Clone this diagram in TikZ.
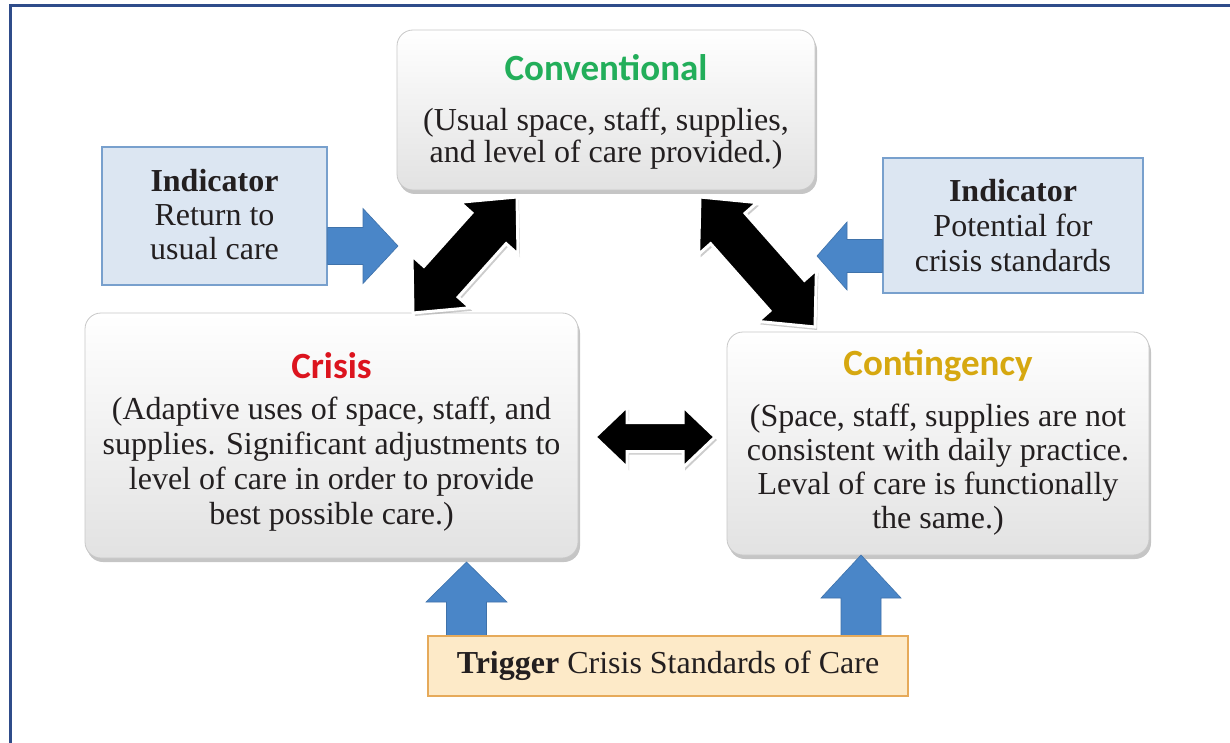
\documentclass[tikz,border=0pt]{standalone}
\usepackage{fontspec}
\setmainfont{LiberationSerif}[Extension=.ttf,UprightFont=*-Regular,BoldFont=*-Bold,ItalicFont=*-Italic,BoldItalicFont=*-BoldItalic]
\newfontfamily\serifbody{LiberationSerif}[Extension=.ttf,UprightFont=*-Regular,BoldFont=*-Bold]
\newfontfamily\headfont{Carlito}
\usetikzlibrary{calc,shadows}
\definecolor{framecol}{RGB}{47,76,138}
\definecolor{boxbot}{RGB}{226,226,226}
\definecolor{boxline}{RGB}{200,200,200}
\definecolor{bodytext}{RGB}{35,31,32}
\definecolor{convgreen}{RGB}{34,174,90}
\definecolor{crisisred}{RGB}{220,20,30}
\definecolor{contgold}{RGB}{214,168,16}
\definecolor{indfill}{RGB}{220,230,242}
\definecolor{indborder}{RGB}{120,160,205}
\definecolor{arrowblue}{RGB}{74,134,200}
\definecolor{trigfill}{RGB}{253,234,200}
\definecolor{trigborder}{RGB}{230,170,90}
\newcommand\dblarrow[6]{%
  \coordinate (#1-ba) at ($(#1)!#3!(#2)$);
  \coordinate (#1-bb) at ($(#2)!#3!(#1)$);
  \path[#6] (#1) -- ($(#1-ba)!#4!90:(#2)$) -- ($(#1-ba)!#5!90:(#2)$)
    -- ($(#1-bb)!#5!-90:(#1)$) -- ($(#1-bb)!#4!-90:(#1)$) -- (#2)
    -- ($(#1-bb)!#4!90:(#1)$) -- ($(#1-bb)!#5!90:(#1)$)
    -- ($(#1-ba)!#5!-90:(#2)$) -- ($(#1-ba)!#4!-90:(#2)$) -- cycle;}
\newcommand\sglarrow[6]{%
  \coordinate (#2-hb) at ($(#2)!#3!(#1)$);
  \path[#6] ($(#1)!#5!90:(#2)$) -- ($(#2-hb)!#5!-90:(#1)$) -- ($(#2-hb)!#4!-90:(#1)$)
    -- (#2) -- ($(#2-hb)!#4!90:(#1)$) -- ($(#2-hb)!#5!90:(#1)$)
    -- ($(#1)!#5!-90:(#2)$) -- cycle;}
\begin{document}
\begin{tikzpicture}[x=1pt,y=-1pt,
  rbox/.style={draw=boxline, line width=0.8pt, rounded corners=16pt, top color=white, bottom color=boxbot,
    drop shadow={opacity=0.45,shadow xshift=2pt,shadow yshift=-4pt}, inner sep=0pt},
  ibox/.style={draw=indborder, fill=indfill, line width=1.2pt, inner sep=0pt},
  tbox/.style={draw=trigborder, fill=trigfill, line width=1.4pt, inner sep=0pt},
  body/.style={font=\serifbody\fontsize{32}{34}\selectfont, text=bodytext, align=center, inner sep=0pt},
  ttl/.style={font=\headfont\bfseries\fontsize{37}{40}\selectfont, inner sep=0pt},
  blk/.style={fill=black, draw=white, line width=3pt, line join=miter,
    drop shadow={opacity=0.4,shadow xshift=2pt,shadow yshift=-3pt}},
  blu/.style={fill=arrowblue, draw=arrowblue!85!black, line width=0.6pt, line join=miter}]
\useasboundingbox (0,0) rectangle (1230,743);
\fill[white] (0,0) rectangle (1230,743);
\draw[framecol, line width=2.5pt] (10.5,745) -- (10.5,5.5) -- (1232,5.5);

% main boxes
\node[rbox, minimum width=418pt, minimum height=160pt] (conv) at (606,110) {};
\node[rbox, minimum width=493pt, minimum height=245pt] (crisis) at (331.5,435.5) {};
\node[rbox, minimum width=422pt, minimum height=223pt] (cont) at (938,443.5) {};

\node[ttl, text=convgreen] (convt) at (606,68) {Conventional};
\node[body, font=\serifbody\fontsize{32}{32}\selectfont] (convb) at (606,139) {(Usual space, staff, supplies,\\and level of care provided.)};
\node[ttl, text=crisisred] (crisist) at (331.5,366) {Crisis};
\node[body, font=\serifbody\fontsize{32}{35}\selectfont] (crisisb) at (331.5,464.5) {(Adaptive uses of space, staff, and\\supplies. Significant adjustments to\\level of care in order to provide\\best possible care.)};
\node[ttl, text=contgold] (contt) at (938,366) {Contingency};
\node[body] (contb) at (938,470) {(Space, staff, supplies are not\\consistent with daily practice.\\Leval of care is functionally\\the same.)};

% black double arrows
\coordinate (la) at (413,313); \coordinate (lb) at (517,197);
\dblarrow{la}{lb}{42pt}{39pt}{23pt}{blk}
\coordinate (ra) at (700,197); \coordinate (rb) at (815,327);
\dblarrow{ra}{rb}{42pt}{39pt}{23pt}{blk}
\coordinate (ha) at (595,437); \coordinate (hb) at (715,437);
\dblarrow{ha}{hb}{32pt}{30.5pt}{14.5pt}{blk}

% indicator boxes
\node[ibox, minimum width=225pt, minimum height=138pt] (indl) at (214.5,216) {};
\node[body] (indlt) at (214.5,214.5) {\textbf{Indicator}\\Return to\\usual care};
\node[ibox, minimum width=260pt, minimum height=135pt] (indr) at (1013,225.5) {};
\node[body, font=\serifbody\fontsize{32}{35}\selectfont] (indrt) at (1013,226) {\textbf{Indicator}\\Potential for\\crisis standards};

% blue arrows
\coordinate (bl1) at (indl.east |- 0,246); \coordinate (bl2) at (398,246);
\sglarrow{bl1}{bl2}{35pt}{37.5pt}{18.5pt}{blu}
\coordinate (br1) at (indr.west |- 0,256); \coordinate (br2) at (817,256);
\sglarrow{br1}{br2}{30pt}{34pt}{16.5pt}{blu}
\coordinate (bu1) at (466.5,640); \coordinate (bu2) at (466.5,562);
\sglarrow{bu1}{bu2}{40pt}{40.5pt}{20pt}{blu}
\coordinate (bv1) at (861,640); \coordinate (bv2) at (861,555);
\sglarrow{bv1}{bv2}{43pt}{40pt}{20pt}{blu}

% trigger
\node[tbox, minimum width=480pt, minimum height=60pt] (trig) at (668,666) {};
\node[body] (trigt) at (668,666) {\textbf{Trigger} Crisis Standards of Care};
\end{tikzpicture}
\end{document}
